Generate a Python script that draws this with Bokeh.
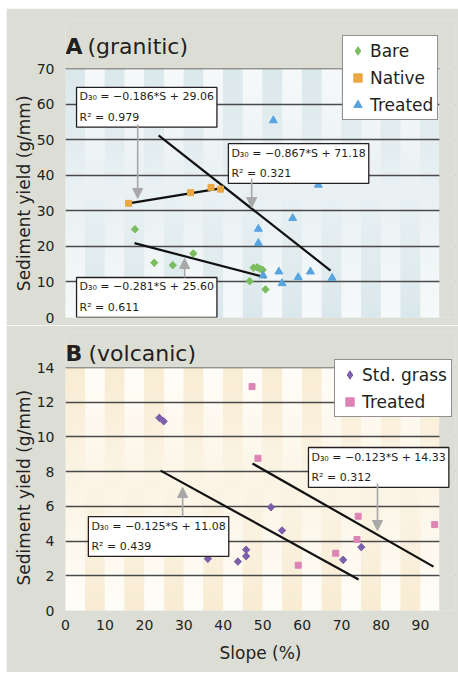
import numpy as np
from bokeh.plotting import figure
from bokeh.models import (Label, Arrow, NormalHead, Legend, LegendItem, Range1d,
                          FixedTicker)
from bokeh.layouts import column
from bokeh.embed import file_html
from bokeh.resources import INLINE

FONT = "DejaVu Sans"
GRAY_BG = "#dcded5"

# ---------------- Panel A (granitic) data ----------------
a_bare_x = [17.6, 22.5, 27.2, 32.4, 46.7, 47.7, 48.6, 49.3, 50.0, 50.7]
a_bare_y = [24.8, 15.4, 14.7, 18.0, 10.2, 14.0, 14.1, 13.7, 13.4, 7.9]
a_native_x = [16.0, 31.7, 36.9, 39.3]
a_native_y = [32.1, 35.1, 36.6, 36.1]
a_treated_x = [52.7, 64.1, 57.6, 48.9, 48.9, 50.1, 54.1, 54.9, 59.0, 62.1, 67.6]
a_treated_y = [55.4, 37.3, 27.9, 24.9, 20.9, 11.8, 12.9, 9.6, 11.3, 12.9, 11.1]

a_fit_native_x = [16.0, 39.3]
a_fit_native_y = [32.1, 36.3]
a_fit_treated_x = [23.6, 67.2]
a_fit_treated_y = [51.2, 13.2]
a_fit_bare_x = [17.5, 50.7]
a_fit_bare_y = [20.9, 11.3]

a_ticks = [0, 10, 20, 30, 40, 50, 60, 70]
a_eq_texts = ["D\u2083\u2080 = \u22120.186*S + 29.06\nR\u00b2 = 0.979",
              "D\u2083\u2080 = \u22120.867*S + 71.18\nR\u00b2 = 0.321",
              "D\u2083\u2080 = \u22120.281*S + 25.60\nR\u00b2 = 0.611"]

# ---------------- Panel B (volcanic) data ----------------
b_grass_x = [23.8, 24.9, 36.1, 43.7, 45.8, 45.8, 52.1, 54.9, 70.4, 75.0]
b_grass_y = [11.1, 10.9, 2.98, 2.82, 3.50, 3.13, 5.95, 4.61, 2.92, 3.65]
b_treated_x = [47.3, 48.8, 59.0, 68.5, 74.2, 73.9, 93.6]
b_treated_y = [12.9, 8.77, 2.61, 3.30, 5.43, 4.09, 4.95]

b_fit_treated_x = [47.4, 93.3]
b_fit_treated_y = [8.47, 2.53]
b_fit_grass_x = [24.1, 74.3]
b_fit_grass_y = [8.06, 1.79]

b_ticks = [0, 2, 4, 6, 8, 10, 12, 14]
x_ticks = [0, 10, 20, 30, 40, 50, 60, 70, 80, 90]
b_eq_texts = ["D\u2083\u2080 = \u22120.123*S + 14.33\nR\u00b2 = 0.312",
              "D\u2083\u2080 = \u22120.125*S + 11.08\nR\u00b2 = 0.439"]

X_PLOT = 94.8      # right edge of the striped plot area
X_FRAME = 98.88    # frame extends into the margin so annotations are not clipped


def mix(c1, c2, a):
    c1 = [int(c1[i:i + 2], 16) for i in (1, 3, 5)]
    c2 = [int(c2[i:i + 2], 16) for i in (1, 3, 5)]
    r = [round(c1[k] * (1 - a) + c2[k] * a) for k in range(3)]
    return "#%02x%02x%02x" % tuple(r)


def stripes(p, y_end, base, tint, n_slices=40):
    L, R, T, B, C = [], [], [], [], []
    ncol = int(np.ceil(X_PLOT / 5))
    eps = y_end * 0.004
    for i in range(ncol):
        for j in range(n_slices):
            t = (j + 0.5) / n_slices
            a = (1 - t) if i % 2 == 0 else t
            L.append(i * 5 - 0.05)
            R.append(min(i * 5 + 5.05, X_PLOT))
            T.append(min(y_end * (1 - j / n_slices) + eps, y_end))
            B.append(y_end * (1 - (j + 1) / n_slices) - eps)
            C.append(mix(base, tint, a))
    p.quad(left=L, right=R, top=T, bottom=B, fill_color=C, line_color=None, level="image")


def margin_cover(p, y_plot, y_frame):
    # grey cover for the parts of the frame that lie outside the plot area
    p.quad(left=[X_PLOT, 0], right=[X_FRAME + 1, X_PLOT],
           bottom=[-1, y_plot], top=[y_frame + 1, y_frame + 1],
           fill_color=GRAY_BG, line_color=None)


def base_fig(height, y_frame, ticks, top, bottom, label_pad):
    p = figure(width=452, height=height, x_range=Range1d(0, X_FRAME), y_range=Range1d(0, y_frame),
               output_backend="svg", toolbar_location=None,
               min_border_left=59, min_border_right=3, min_border_top=top, min_border_bottom=bottom,
               border_fill_color=GRAY_BG, background_fill_color=GRAY_BG, outline_line_color=None)
    p.xgrid.visible = False
    p.ygrid.grid_line_color = "#4a4a4a"
    p.ygrid.grid_line_width = 1.3
    p.yaxis.ticker = FixedTicker(ticks=ticks)
    p.ygrid.ticker = FixedTicker(ticks=ticks)
    p.yaxis.axis_line_color = None
    p.yaxis.major_tick_line_color = None
    p.yaxis.minor_tick_line_color = None
    p.yaxis.major_label_standoff = 5
    p.yaxis.major_label_text_font = FONT
    p.yaxis.major_label_text_font_size = "14px"
    p.yaxis.major_label_text_color = "#231f20"
    p.yaxis.axis_label = "Sediment yield (g/mm)" + "\u00a0" * label_pad
    p.yaxis.axis_label_text_font = FONT
    p.yaxis.axis_label_text_font_size = "17px"
    p.yaxis.axis_label_text_font_style = "normal"
    p.yaxis.axis_label_text_color = "#231f20"
    p.yaxis.axis_label_standoff = 0
    return p


def eq_label(p, x, y, text):
    p.add_layout(Label(x=x, y=y, text=text, anchor="top_left", text_font=FONT,
                       text_font_size="11px", text_line_height=1.6, text_color="#231f20",
                       padding=3, background_fill_color="white", background_fill_alpha=1.0,
                       border_line_color="#231f20", border_line_width=1.3))


def arrow(p, x, y0, y1):
    p.add_layout(Arrow(x_start=x, y_start=y0, x_end=x, y_end=y1, line_color="#a8a8a8",
                       line_width=1.6,
                       end=NormalHead(size=10, fill_color="#a8a8a8", line_color="#a8a8a8")))


def title(p, y, letter, rest, rest_x):
    p.add_layout(Label(x=0, y=y, x_units="screen", y_units="screen", text=letter,
                       text_font=FONT, text_font_size="22px", text_font_style="bold",
                       text_color="#231f20", text_baseline="alphabetic"))
    p.add_layout(Label(x=rest_x, y=y, x_units="screen", y_units="screen", text=rest,
                       text_font=FONT, text_font_size="22px", text_color="#231f20",
                       text_baseline="alphabetic"))


def legend(p, items, loc):
    lg = Legend(items=items, location=loc, border_line_color="#231f20", border_line_width=1.5,
                background_fill_color="white", background_fill_alpha=1.0,
                label_text_font=FONT, label_text_font_size="17px", label_text_color="#231f20",
                glyph_width=21, glyph_height=21, label_height=19, spacing=6, padding=4,
                margin=0, label_standoff=2)
    p.add_layout(lg)


BARE_C, NATIVE_C, TREAT_A_C = "#7cbd60", "#e9a843", "#58a4e0"
GRASS_C, TREAT_B_C = "#7d5fab", "#dc85b5"

# ---------------- Figure A ----------------
A_FRAME_TOP = 83.52
pA = base_fig(317, A_FRAME_TOP, a_ticks, 12, 8, 9)
stripes(pA, 70, "#f6f9fa", "#dbe8eb")
margin_cover(pA, 70, A_FRAME_TOP)
pA.xaxis.visible = False

for fx, fy in [(a_fit_native_x, a_fit_native_y), (a_fit_treated_x, a_fit_treated_y),
               (a_fit_bare_x, a_fit_bare_y)]:
    pA.line(fx, fy, line_color="#111111", line_width=2.2)

# diamond glyph (used by the legend), covered exactly by the rotated squares
rA_bare = pA.scatter(a_bare_x, a_bare_y, marker="diamond", size=7,
                     fill_color=BARE_C, line_color=BARE_C)
pA.scatter(a_bare_x, a_bare_y, marker="square", size=5.2, angle=np.pi / 4,
           fill_color=BARE_C, line_color=BARE_C)
rA_native = pA.scatter(a_native_x, a_native_y, marker="square", size=6,
                       fill_color=NATIVE_C, line_color=NATIVE_C)
rA_treated = pA.scatter(a_treated_x, a_treated_y, marker="triangle", size=8,
                        fill_color=TREAT_A_C, line_color=TREAT_A_C)

eq_label(pA, 2.8, 64.7, a_eq_texts[0])
eq_label(pA, 41.3, 48.9, a_eq_texts[1])
eq_label(pA, 2.8, 11.25, a_eq_texts[2])
arrow(pA, 18.3, 54.3, 33.5)
arrow(pA, 47.2, 39.1, 30.9)
arrow(pA, 30.2, 11.25, 16.6)

title(pA, 271, "A", "(granitic)", 22)
legend(pA, [LegendItem(label="Bare", renderers=[rA_bare]),
            LegendItem(label="Native", renderers=[rA_native]),
            LegendItem(label="Treated", renderers=[rA_treated])], (277, 197))

# ---------------- Figure B ----------------
B_FRAME_TOP = 16.017
pB = base_fig(347, B_FRAME_TOP, b_ticks, 7, 62, 6)
stripes(pB, 14, "#fffdf8", "#f8ecd3")
margin_cover(pB, 14, B_FRAME_TOP)
pB.xaxis.ticker = FixedTicker(ticks=x_ticks)
pB.xaxis.axis_line_color = None
pB.xaxis.major_tick_line_color = None
pB.xaxis.minor_tick_line_color = None
pB.xaxis.major_label_standoff = 3
pB.xaxis.major_label_text_font = FONT
pB.xaxis.major_label_text_font_size = "14px"
pB.xaxis.major_label_text_color = "#231f20"
pB.xaxis.axis_label = "Slope (%)"
pB.xaxis.axis_label_text_font = FONT
pB.xaxis.axis_label_text_font_size = "17px"
pB.xaxis.axis_label_text_font_style = "normal"
pB.xaxis.axis_label_text_color = "#231f20"
pB.xaxis.axis_label_standoff = 10

for fx, fy in [(b_fit_treated_x, b_fit_treated_y), (b_fit_grass_x, b_fit_grass_y)]:
    pB.line(fx, fy, line_color="#111111", line_width=2.2)

rB_grass = pB.scatter(b_grass_x, b_grass_y, marker="diamond", size=7,
                      fill_color=GRASS_C, line_color=GRASS_C)
pB.scatter(b_grass_x, b_grass_y, marker="square", size=5.2, angle=np.pi / 4,
           fill_color=GRASS_C, line_color=GRASS_C)
rB_treated = pB.scatter(b_treated_x, b_treated_y, marker="square", size=6,
                        fill_color=TREAT_B_C, line_color=TREAT_B_C)

eq_label(pB, 61.6, 9.39, b_eq_texts[0])
eq_label(pB, 5.8, 5.41, b_eq_texts[1])
arrow(pB, 79.1, 7.32, 4.61)
arrow(pB, 29.7, 5.41, 7.09)

title(pB, 257, "B", "(volcanic)", 23)
legend(pB, [LegendItem(label="Std. grass", renderers=[rB_grass]),
            LegendItem(label="Treated", renderers=[rB_treated])], (269, 193))

layout = column(pA, pB, spacing=0, margin=(8, 0, 0, 6))
open("out.html", "w").write(file_html(layout, INLINE))
